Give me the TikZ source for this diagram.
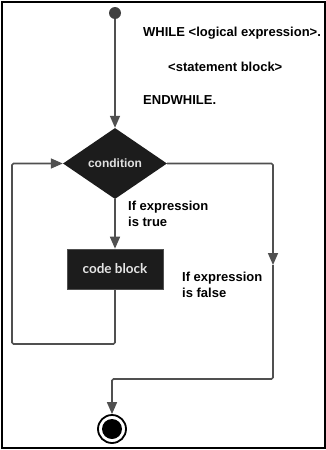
\documentclass[tikz,border=0pt]{standalone}
\usepackage{fontspec}
\setmainfont{Liberation Sans}
\newfontfamily\blockfont{Lato}
\usepackage{xcolor}
\usetikzlibrary{arrows.meta,positioning,shapes.geometric}
\definecolor{flowgray}{RGB}{80,80,80}
\definecolor{blockdark}{RGB}{28,28,28}
\tikzset{
  pseudotext/.style={
    font=\fontsize{13}{16}\selectfont\bfseries,
    anchor=west,
    inner sep=0pt
  },
  branchtext/.style={
    pseudotext,
    anchor=north west,
    align=left
  },
  condshape/.style={
    diamond,
    fill=blockdark,
    draw=none,
    inner sep=0pt,
    minimum width=104pt,
    minimum height=71pt,
    text=white!88!black,
    font=\fontsize{12}{14}\selectfont\bfseries
  },
  codeshape/.style={
    rectangle,
    fill=blockdark,
    draw=flowgray,
    line width=0.6pt,
    minimum width=96pt,
    minimum height=40pt,
    text=white!90!black,
    font=\blockfont\fontsize{13.5}{16}\selectfont\bfseries
  },
  startdot/.style={
    circle,
    fill=black!75,
    inner sep=0pt,
    minimum size=12pt
  },
  stopdot/.style={
    circle,
    draw=black,
    line width=1.8pt,
    inner sep=0pt,
    minimum size=28pt,
    path picture={\fill[black] (path picture bounding box.center) circle (10pt);}
  },
  flowline/.style={-{Triangle[length=12pt,width=10pt]},draw=flowgray,line width=1.6pt,rounded corners=1.5pt}
}
\begin{document}
\begin{tikzpicture}[x=1pt,y=-1pt]
\useasboundingbox (0,0) rectangle (326,450);
\draw[line width=2pt] (1.5,1.5) rectangle (324.5,448);
\node[startdot] (start) at (115,13) {};
\node[pseudotext] (whileline) at (143,33) {WHILE <logical expression>.};
\node[pseudotext] (stmtline) at (168,67) {<statement block>};
\node[pseudotext] (endline) at (143,100) {ENDWHILE.};
\node[condshape] (cond) at (115,163.5) {condition};
\node[codeshape] (code) at (115,269) {code block};
\node[branchtext] (truelbl) at (128,201) {If expression\\is true};
\node[branchtext] (falselbl) at (182,272) {If expression\\is false};
\node[stopdot] (stop) at (112,429) {};
\coordinate (falsecorner) at (273,163.5);
\coordinate (falsemid) at (273,265);
\coordinate (falsebottom) at (273,379);
\coordinate (falseleft) at (112,379);
\coordinate (loopbottom) at (115,344);
\coordinate (loopleft) at (12,344);
\coordinate (looptop) at (12,163.5);
\draw[flowline] (start) -- (cond);
\draw[flowline] (cond) -- (code);
\draw[flowline] (cond.east) -- (falsecorner) -- (falsemid);
\draw[flowline] (falsemid) -- (falsebottom) -- (falseleft) -- (stop);
\draw[flowline] (code.south) -- (loopbottom) -- (loopleft) -- (looptop) -- (cond.west);
\end{tikzpicture}
\end{document}
